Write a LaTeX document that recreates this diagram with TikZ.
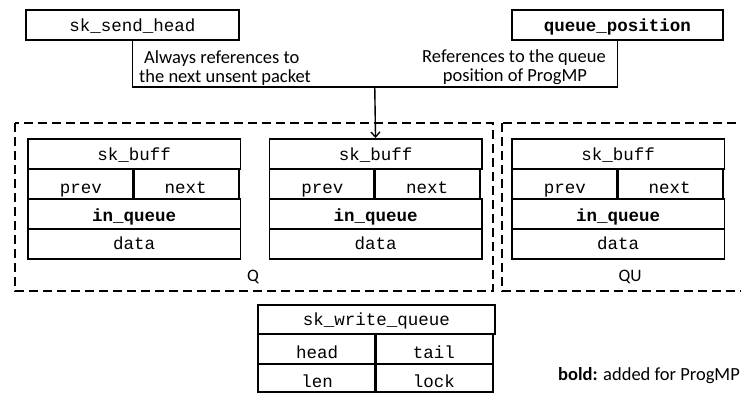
\documentclass[tikz,border=0pt]{standalone}
\usepackage{fontspec}
\setmainfont{Carlito}
\setmonofont{Liberation Mono}
\usetikzlibrary{arrows.meta}

\begin{document}
\begin{tikzpicture}[x=1pt, y=-1pt,
  cell/.style={draw, line width=1.6pt, inner sep=0pt,
    font=\fontsize{17.5}{20}\selectfont\ttfamily},
  bl/.style={text height=#1pt, text depth=0pt},
  group/.style={draw, line width=1.8pt, dash pattern=on 9pt off 5pt},
  note/.style={inner sep=0pt, font=\fontsize{18.5}{22}\selectfont},
  tag/.style={inner sep=0pt, font=\fontsize{17.5}{20}\selectfont},
  link/.style={line width=1.4pt},
  ptr/.style={line width=1.4pt, -{Straight Barb[length=5pt, width=9pt, line width=1.4pt]}}
]
\useasboundingbox (0,0) rectangle (741,394);

% pointers at the top
\node[cell, bl=12, minimum width=213pt, minimum height=30pt] (send) at (132.5,25) {sk\_send\_head};
\node[cell, bl=12, minimum width=211pt, minimum height=30pt] (qpos) at (617.5,25) {\bfseries queue\_position};

\node[note, anchor=base west] (sendA) at (144,63) {Always references to};
\node[note, anchor=base west] (sendB) at (139,82) {the next unsent packet};
\node[note, anchor=base] (qposA) at (514,62) {References to the queue};
\node[note, anchor=base] (qposB) at (515,81) {position of ProgMP};

% queue groups
\draw[group] (15,123) rectangle (493,291);
\draw[group] (502,123) rectangle (745,291);
\node[tag, anchor=base] (qlab) at (253,281) {Q};
\node[tag, anchor=base] (qulab) at (630,281) {QU};

% three sk_buff structures
\foreach \i/\x in {1/27, 2/268.5, 3/511} {
  \node[cell, bl=14, minimum width=212.5pt, minimum height=30pt, anchor=north west] (b\i t) at (\x,138) {sk\_buff};
  \node[cell, bl=20, minimum width=106.25pt, minimum height=30pt, anchor=north west] (b\i p) at (\x,168) {prev};
  \node[cell, bl=20, minimum width=106.25pt, minimum height=30pt, anchor=north east] (b\i n) at (\x+212.5,168) {next};
  \node[cell, bl=16, minimum width=212.5pt, minimum height=30pt, anchor=north west] (b\i q) at (\x,198) {\bfseries in\_queue};
  \node[cell, bl=12, minimum width=212.5pt, minimum height=30pt, anchor=north west] (b\i d) at (\x,228) {data};
}

% sk_write_queue
\node[cell, bl=13, minimum width=237pt, minimum height=29pt, anchor=north west] (wq) at (257,304) {sk\_write\_queue};
\node[cell, bl=19, minimum width=118.5pt, minimum height=30pt, anchor=north west] (wqh) at (257,333) {head};
\node[cell, bl=19, minimum width=118.5pt, minimum height=30pt, anchor=north east] (wqt) at (494,333) {tail};
\node[cell, bl=19, minimum width=118.5pt, minimum height=28pt, anchor=north west] (wql) at (257,363) {len};
\node[cell, bl=19, minimum width=118.5pt, minimum height=28pt, anchor=north east] (wqk) at (494,363) {lock};

\node[note, anchor=base west] (legend) at (558,380) {\textbf{bold:} added for ProgMP};

% connectors
\coordinate (junc) at (374.75,87);
\draw[link] (send.south) |- (junc) -| (qpos.south);
\draw[ptr] (junc) -- (b2t.north);
\end{tikzpicture}
\end{document}
